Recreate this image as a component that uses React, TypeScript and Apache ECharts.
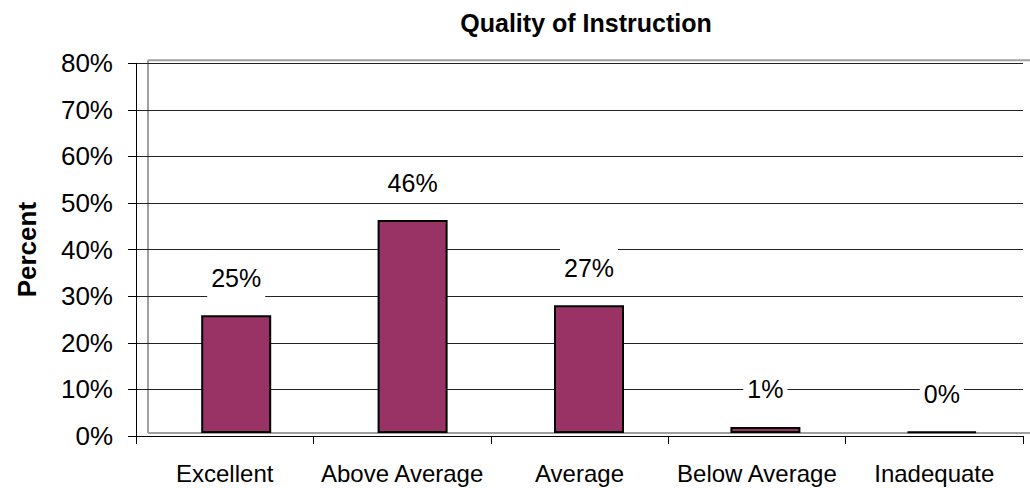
import React, { useEffect, useRef } from "react";
import * as echarts from "echarts";

const categories = ["Excellent", "Above Average", "Average", "Below Average", "Inadequate"];
const values = [25.3, 45.7, 27.4, 1.3, 0.3];
const labelTexts = ["25%", "46%", "27%", "1%", "0%"];
const yMin = 0;
const yMax = 80;
const yInterval = 10;

const FONT = "'Liberation Sans', Arial, sans-serif";

export default function App() {
  const ref = useRef<HTMLDivElement>(null);
  useEffect(() => {
    if (!ref.current) return;
    const chart = echarts.init(ref.current, undefined, { renderer: "svg" });
    const gridH = 372.7;
    const gridW = 887;
    chart.setOption({
      animation: false,
      backgroundColor: "#ffffff",
      title: {
        text: "Quality of Instruction",
        left: 581,
        top: 5,
        textAlign: "center",
        textStyle: { fontFamily: FONT, fontSize: 25, fontWeight: "bold", color: "#000", lineHeight: 26 },
      },
      graphic: [
        {
          type: "line",
          z: -1,
          silent: true,
          shape: { x1: 148, y1: 60.3, x2: 1030, y2: 60.3 },
          style: { stroke: "#a0a0a0", lineWidth: 2 },
        },
        {
          type: "line",
          z: -1,
          silent: true,
          shape: { x1: 148, y1: 60.3, x2: 148, y2: 60.3 + gridH },
          style: { stroke: "#a0a0a0", lineWidth: 2 },
        },
        {
          type: "line",
          z: -1,
          silent: true,
          shape: { x1: 148, y1: 60.3 + gridH, x2: 1030, y2: 60.3 + gridH },
          style: { stroke: "#a0a0a0", lineWidth: 2 },
        },
      ],
      grid: [
        { left: 136, top: 63.3, width: gridW, height: gridH, show: false },
        { left: 148, top: 60.3, width: gridW, height: gridH, show: false },
      ],
      xAxis: [
        {
          type: "category",
          gridIndex: 0,
          data: categories,
          axisLine: { show: true, lineStyle: { color: "#000", width: 1 } },
          axisTick: { show: true, length: 8, lineStyle: { color: "#000" } },
          axisLabel: { fontFamily: FONT, fontSize: 24, color: "#000", margin: 25, interval: 0 },
          splitLine: { show: false },
        },
        {
          type: "category",
          gridIndex: 1,
          data: categories,
          show: false,
        },
      ],
      yAxis: [
        {
          type: "value",
          gridIndex: 0,
          min: yMin,
          max: yMax,
          interval: yInterval,
          name: "Percent",
          nameLocation: "middle",
          nameRotate: 90,
          nameGap: 96,
          nameTextStyle: { fontFamily: FONT, fontSize: 26, fontWeight: "bold", color: "#000" },
          axisLine: { show: true, lineStyle: { color: "#000", width: 1 } },
          axisTick: { show: true, length: 8, lineStyle: { color: "#000" } },
          axisLabel: {
            fontFamily: FONT,
            fontSize: 26,
            color: "#000",
            margin: 23,
            formatter: "{value}%",
          },
          splitLine: { show: true, lineStyle: { color: "#222", width: 1 } },
        },
        {
          type: "value",
          gridIndex: 1,
          min: yMin,
          max: yMax,
          interval: yInterval,
          show: false,
        },
      ],
      series: [
        {
          type: "bar",
          xAxisIndex: 1,
          yAxisIndex: 1,
          data: values,
          barWidth: 70,
          itemStyle: { color: "#993366", borderColor: "#000", borderWidth: 2 },
          label: {
            show: true,
            position: "top",
            distance: 17,
            formatter: (p: any) => labelTexts[p.dataIndex],
            fontFamily: FONT,
            fontSize: 25,
            lineHeight: 25,
            color: "#000",
            backgroundColor: "#ffffff",
            padding: [8, 4, 8, 4],
          },
          z: 5,
        },
      ],
    });
    return () => chart.dispose();
  }, []);
  return <div ref={ref} style={{ width: 1030, height: 488, position: "absolute", left: 0, top: 0 }} />;
}
